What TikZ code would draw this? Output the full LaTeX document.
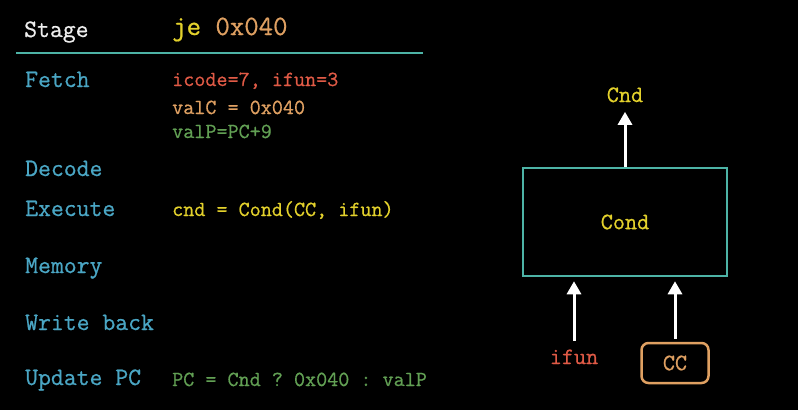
\documentclass[tikz,border=0pt]{standalone}
\usepackage{fontspec}
\setmonofont{Latin Modern Mono}[FakeBold=0.7]
\usetikzlibrary{arrows.meta}
\definecolor{bg}{HTML}{000000}
\definecolor{teal}{HTML}{4DB3A6}
\definecolor{stagec}{HTML}{4AA6C4}
\definecolor{whitec}{HTML}{EEEEEE}
\definecolor{yel}{HTML}{E3D12C}
\definecolor{ora}{HTML}{DFA062}
\definecolor{redc}{HTML}{E05A46}
\definecolor{grn}{HTML}{62A054}
\tikzset{
  stg/.style={anchor=base west, inner sep=0pt, text=stagec, font=\ttfamily\fontsize{25}{29}\selectfont},
  code/.style={anchor=base west, inner sep=0pt, font=\ttfamily\fontsize{21.5}{25}\selectfont},
  lab/.style={font=\ttfamily\fontsize{23.5}{27}\selectfont},
  arr/.style={draw=white, line width=3pt, -{Triangle[width=14pt,length=13pt]}}
}
\begin{document}
\begin{tikzpicture}[x=1pt,y=-1pt]
\fill[bg] (0,0) rectangle (798,410);
\useasboundingbox (0,0) rectangle (798,410);
% header
\node[stg, text=whitec] (hstage) at (24,37) {Stage};
\node[anchor=base west, inner sep=0pt, font=\ttfamily\fontsize{28}{32}\selectfont] (hinstr) at (172,35) {\textcolor{yel}{je} \textcolor{ora}{0x040}};
\coordinate (ls) at (16,53);
\coordinate (le) at (423,53);
\draw[teal, line width=2.2pt] (ls) -- (le);
% stages
\node[stg] (fetch) at (25,87) {Fetch};
\node[stg] (decode) at (25,176) {Decode};
\node[stg] (execute) at (25,216) {Execute};
\node[stg] (memory) at (25,273) {Memory};
\node[stg] (wb) at (25,330) {Write back};
\node[stg] (upc) at (25,385) {Update PC};
% code
\node[code, text=redc] (f1) at (172,86) {icode=7, ifun=3};
\node[code, text=ora] (f2) at (172,114) {valC = 0x040};
\node[code, text=grn] (f3) at (172,138) {valP=PC+9};
\node[code, text=yel] (e1) at (172,216) {cnd = Cond(CC, ifun)};
\node[code, text=grn] (u1) at (172,386) {PC = Cnd ? 0x040 : valP};
% diagram
\node[draw=teal, line width=2.5pt, minimum width=204pt, minimum height=108pt, lab, text=yel] (box) at (625,222) {Cond};
\node[lab, text=yel, anchor=base] (cnd) at (625,102) {Cnd};
\node[lab, text=redc, anchor=base] (ifun) at (574,364) {ifun};
\node[draw=ora, line width=2.5pt, rounded corners=7pt, minimum width=67pt, minimum height=40pt, lab, text=ora] (cc) at (675,363) {CC};
\draw[arr, shorten >=6pt] (box.north) -- (cnd.south);
\draw[arr, shorten >=4pt] ([yshift=5pt]ifun.north) -- (ifun.north |- box.south);
\draw[arr, shorten >=4pt] ([yshift=3pt]cc.north) -- (cc.north |- box.south);
\end{tikzpicture}
\end{document}
